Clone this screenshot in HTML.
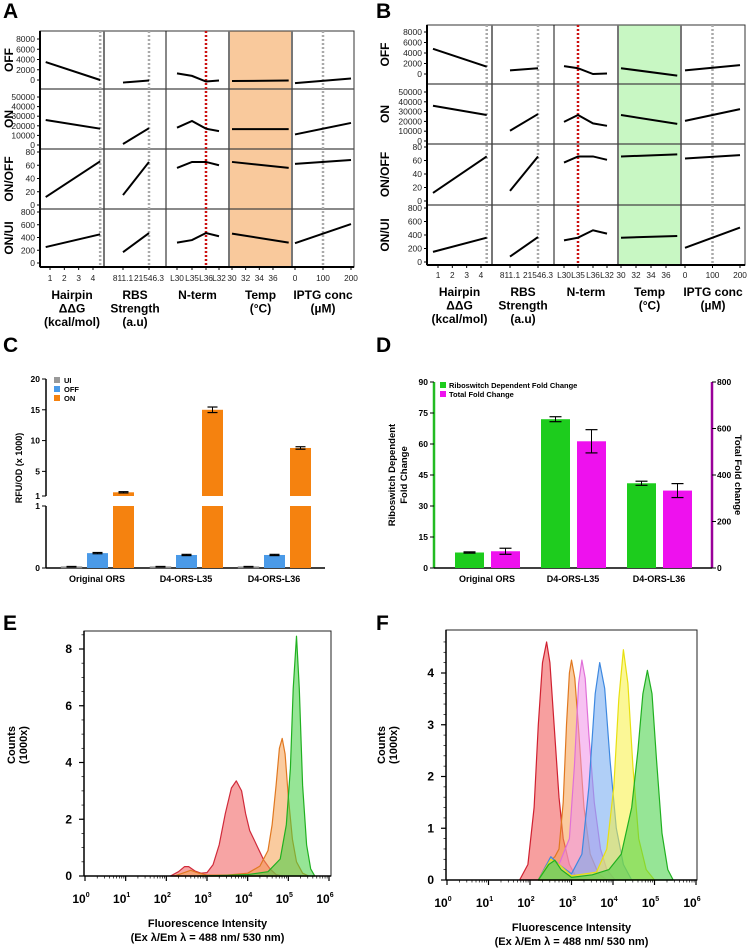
<!DOCTYPE html>
<html><head><meta charset="utf-8"><style>
html,body{margin:0;padding:0;background:#fff}
svg{display:block;font-family:"Liberation Sans",Arial,sans-serif}
</style></head><body>
<svg id="fig" width="747" height="951" viewBox="0 0 747 951" xmlns="http://www.w3.org/2000/svg"></svg>
<script>
// ---------- Panel A/B data ----------
const hairpinX=[0.7,4.5];
const hairpinXB=[0.65,4.4];
const rbsX=[811.1,21546.3];
const ntermCats=['L30','L35','L36','L32'];
const tempX=[30,38.3];
const tempXB=[30,37.5];
const iptgX=[0,200];
const rowNames=['OFF','ON','ON/OFF','ON/UI'];
const rowMax=[8000,50000,80,800];
const rowTicks=[[0,2000,4000,6000,8000],[0,10000,20000,30000,40000,50000],[0,20,40,60,80],[0,200,400,600,800]];
const aOFF=[[3500,0],[-500,-100],[1300,800,-300,-100],[-200,-100],[-600,300]];
const aON=[[26000,17000],[1000,17500],[18000,25000,17000,14500],[16500,16500],[11000,23000]];
const aONOFF=[[12,66],[15,65],[56,65,65,60],[65,56],[62,68]];
const aONUI=[[250,450],[170,470],[320,360,470,420],[460,320],[310,610]];
const bOFF=[[4800,1400],[700,1100],[1500,1100,0,100],[1100,-300],[700,1700]];
const bON=[[36000,26500],[10500,27500],[19500,26500,18000,15500],[26500,17500],[20500,32500]];
const bONOFF=[[12,66],[15,66],[57,66,66,61],[66,69],[63,68]];
const bONUI=[[150,360],[80,370],[320,360,470,420],[360,385],[210,510]];

// ---------- Panel C data ----------
const cGroups=['Original ORS','D4-ORS-L35','D4-ORS-L36'];
const cUI=[0.02,0.02,0.02];
const cOFF=[0.24,0.21,0.21];
const cON=[1.6,15.0,8.8];
const cOFFerr=[0.01,0.01,0.01];
const cONerr=[0.1,0.45,0.2];
// ---------- Panel D data ----------
const dGroups=['Original ORS','D4-ORS-L35','D4-ORS-L36'];
const dRibo=[7.5,72,41];
const dRiboErr=[0.3,1.2,1];
const dTotal=[72,545,333];
const dTotalErr=[13,50,30];
// ---------- Panel E/F histogram data (log10 intensity, counts x1000) ----------
const eRedX=[2.1,2.3,2.45,2.55,2.7,2.85,3.0,3.15,3.3,3.45,3.6,3.72,3.85,3.95,4.05,4.15,4.25,4.4,4.55,4.7,4.85];
const eRedY=[0,0.15,0.33,0.33,0.18,0.1,0.12,0.4,1.1,2.2,3.1,3.35,3.0,2.2,1.6,1.3,1.0,0.55,0.25,0.05,0];
const eOrX=[2.2,2.4,2.6,2.8,3.0,3.5,4.0,4.3,4.5,4.6,4.7,4.78,4.85,4.92,5.0,5.1,5.2,5.35,5.5];
const eOrY=[0,0.1,0.2,0.1,0.03,0.03,0.1,0.35,0.9,1.8,3.2,4.5,4.85,4.3,2.8,1.3,0.5,0.1,0];
const eGrX=[2.8,3.5,4.0,4.5,4.8,4.95,5.05,5.12,5.2,5.27,5.35,5.45,5.55,5.65];
const eGrY=[0,0.02,0.05,0.15,0.6,1.8,3.8,6.6,8.45,6.6,3.2,1.1,0.25,0];
const fRedX=[1.75,1.95,2.1,2.2,2.3,2.4,2.48,2.58,2.7,2.8,2.95,3.1,3.3];
const fRedY=[0,0.3,1.4,3.0,4.2,4.6,4.2,3.0,1.6,0.8,0.3,0.08,0];
const fOrX=[2.2,2.4,2.6,2.7,2.8,2.88,2.95,3.0,3.08,3.18,3.3,3.45,3.65,3.85];
const fOrY=[0,0.3,0.45,0.6,1.5,3.0,4.0,4.25,3.9,2.8,1.4,0.5,0.12,0];
const fPkX=[2.2,2.5,2.7,2.95,3.07,3.17,3.25,3.33,3.42,3.55,3.7,3.85,4.05];
const fPkY=[0,0.35,0.3,0.8,2.2,3.8,4.25,3.9,2.8,1.5,0.6,0.2,0];
const fBlX=[2.2,2.5,2.7,3.0,3.25,3.42,3.57,3.68,3.8,3.93,4.08,4.25,4.45];
const fBlY=[0,0.45,0.3,0.12,0.5,1.8,3.6,4.2,3.7,2.3,1.0,0.3,0];
const fYeX=[2.2,2.5,2.7,3.0,3.6,3.85,4.02,4.14,4.25,4.36,4.48,4.62,4.8,5.0];
const fYeY=[0,0.4,0.3,0.08,0.15,0.6,1.8,3.5,4.45,3.8,2.2,0.8,0.2,0];
const fGrX=[2.2,2.45,2.6,2.75,3.0,3.5,3.9,4.2,4.45,4.6,4.72,4.83,4.94,5.05,5.18,5.32,5.45];
const fGrY=[0,0.3,0.38,0.2,0.05,0.1,0.2,0.5,1.4,2.5,3.6,4.05,3.6,2.3,0.9,0.2,0];

const NS='http://www.w3.org/2000/svg';
const svg=document.getElementById('fig');
function mk(tag,attrs,parent){const e=document.createElementNS(NS,tag);for(const k in attrs)e.setAttribute(k,attrs[k]);(parent||svg).appendChild(e);return e;}
function txt(s,x,y,size,opts,parent){const o=Object.assign({x:x,y:y,'font-size':size,fill:'#000'},opts||{});const t=mk('text',o,parent);t.textContent=s;return t;}

[['A',3,18],['B',376,18],['C',3,352],['D',376,352],['E',3,630],['F',376,630]].forEach(p=>{
  const t=txt(p[0],p[1],p[2],21,{'font-weight':'bold'});
  
  
});

function multiPanel(cfg){
  const g=mk('g',{});
  
  
  const cols=cfg.cols, rows=cfg.rows;
  const sh=mk('rect',{x:cols[3],y:rows[0],width:cols[4]-cols[3],height:rows[4]-rows[0],fill:cfg.shade},g);
  
  
  mk('rect',{x:cols[0],y:rows[0],width:cols[5]-cols[0],height:rows[4]-rows[0],fill:'none',stroke:'#333','stroke-width':1},g);
  for(let i=1;i<5;i++){mk('line',{x1:cols[i],x2:cols[i],y1:rows[0],y2:rows[4],stroke:i==2?'#111':'#777','stroke-width':i==2?1:2},g);}
  for(let i=1;i<4;i++){mk('line',{x1:cols[0],x2:cols[5],y1:rows[i],y2:rows[i],stroke:'#444','stroke-width':1.2},g);}
  mk('line',{x1:cols[0],x2:cols[0],y1:rows[0],y2:rows[4],stroke:'#000','stroke-width':2},g);
  mk('line',{x1:cols[0],x2:cols[5],y1:rows[4],y2:rows[4],stroke:'#000','stroke-width':2},g);
  const hs=v=>cfg.hp1+(v-1)*cfg.hpu;
  const rs=v=>cfg.rb[0]+(v-rbsX[0])/(rbsX[1]-rbsX[0])*(cfg.rb[1]-cfg.rb[0]);
  const ns=i=>cfg.nt[i];
  const ts=v=>cfg.t30+(v-30)*cfg.tu;
  const is=v=>cfg.ip[0]+v/200*(cfg.ip[1]-cfg.ip[0]);
  const refs=[[hs(cfg.hpRef),'#aaa'],[rs(rbsX[1]),'#aaa'],[ns(cfg.redIdx),'#cc1010'],[is(100),'#aaa']];
  refs.forEach((r,i)=>{const l=mk('line',{x1:r[0],x2:r[0],y1:rows[0],y2:rows[4],stroke:r[1],'stroke-width':2.5,'stroke-dasharray':'2,2'},g);
    
    });
  cfg.data.forEach((rowData,ri)=>{
    const y0=cfg.y0[ri], ym=cfg.ym[ri];
    const ys=v=>y0+(v/rowMax[ri])*(ym-y0);
    rowTicks[ri].forEach(tv=>{
      mk('line',{x1:cols[0]-3,x2:cols[0],y1:ys(tv),y2:ys(tv),stroke:'#000','stroke-width':1},g);
      txt(String(tv),cols[0]-5,ys(tv)+3,8.5,{'text-anchor':'end',fill:'#222'},g);
    });
    const rl=txt(rowNames[ri],0,0,12,{'font-weight':'bold','text-anchor':'middle',transform:`translate(${cfg.rowLabX},${(rows[ri]+rows[ri+1])/2}) rotate(-90)`},g);
    
    
    const series=[
      [rowData[0].map((v,i)=>[hs(cfg.hx[i]),ys(v)]),'hairpin'],
      [rowData[1].map((v,i)=>[rs(rbsX[i]),ys(v)]),'rbs'],
      [rowData[2].map((v,i)=>[ns(i),ys(v)]),'nterm'],
      [rowData[3].map((v,i)=>[ts(cfg.tx[i]),ys(v)]),'temp'],
      [rowData[4].map((v,i)=>[is(iptgX[i]),ys(v)]),'iptg']];
    series.forEach(s=>{
      const p=mk('polyline',{points:s[0].map(q=>q.join(',')).join(' '),fill:'none',stroke:'#000','stroke-width':2},g);
      
      
    });
  });
  const bt=[];
  [1,2,3,4].forEach(v=>bt.push([hs(v),String(v)]));
  bt.push([rs(rbsX[0]),'811.1']);bt.push([rs(rbsX[1]),'21546.3']);
  ntermCats.forEach((c,i)=>bt.push([ns(i),c]));
  [30,32,34,36].forEach(v=>bt.push([ts(v),String(v)]));
  [0,100,200].forEach(v=>bt.push([is(v),String(v)]));
  bt.forEach(b=>{mk('line',{x1:b[0],x2:b[0],y1:rows[4],y2:rows[4]+3,stroke:'#000','stroke-width':1},g);
    txt(b[1],b[0],cfg.tickY,8.3,{'text-anchor':'middle',fill:'#222'},g);});
  const titles=[['Hairpin','ΔΔG','(kcal/mol)'],['RBS','Strength','(a.u)'],['N-term'],['Temp','(°C)'],['IPTG conc','(µM)']];
  titles.forEach((tl,ci)=>{const cx=(cols[ci]+cols[ci+1])/2;
    tl.forEach((s,li)=>{const t=txt(s,cx,cfg.titleY+li*13.5,12,{'font-weight':'bold','text-anchor':'middle'},g);
      
      });});
}
multiPanel({name:'panel-a',cols:[40,104,166,229,292,354],rows:[31,89,149,209,267],shade:'#f9c99c',
  y0:[80,145,205,263],ym:[39,97,152,212],hp1:50,hpu:14.33,hpRef:4.5,rb:[123,149],nt:[177,192,206,219],redIdx:2,t30:232,tu:6.83,ip:[295,351],
  hx:hairpinX,tx:tempX,rowLabX:13,tickY:281,titleY:299,data:[aOFF,aON,aONOFF,aONUI]});
multiPanel({name:'panel-b',cols:[427,492,554,618,681,745],rows:[25,84,144,205,265],shade:'#c8f7c3',
  y0:[74,141,201,262],ym:[32,92,147,208],hp1:438,hpu:14.33,hpRef:4.4,rb:[510,538],nt:[564,578,593,607],redIdx:1,t30:621,tu:7.5,ip:[685,740],
  hx:hairpinXB,tx:tempXB,rowLabX:389,tickY:278,titleY:296,data:[bOFF,bON,bONOFF,bONUI]});

(function(){
  const g=mk('g',{});
  
  
  const base=568, lowTop=506, upBot=496, upTop=379;
  const yLow=v=>base-v*(base-lowTop);
  const yUp=v=>upBot-(v-1)/19*(upBot-upTop);
  const y=v=>v<=1?yLow(v):yUp(v);
  mk('line',{x1:46,x2:46,y1:upTop,y2:upBot,stroke:'#000','stroke-width':1.5},g);
  mk('line',{x1:46,x2:46,y1:lowTop,y2:base,stroke:'#000','stroke-width':1.5},g);
  mk('line',{x1:46,x2:325,y1:base,y2:base,stroke:'#000','stroke-width':1.5},g);
  [[1,'1'],[5,'5'],[10,'10'],[15,'15'],[20,'20']].forEach(t=>{mk('line',{x1:42,x2:46,y1:yUp(t[0]),y2:yUp(t[0]),stroke:'#000'},g);txt(t[1],40,yUp(t[0])+3,8.5,{'text-anchor':'end','font-weight':'bold'},g);});
  [[0,'0'],[1,'1']].forEach(t=>{mk('line',{x1:42,x2:46,y1:yLow(t[0]),y2:yLow(t[0]),stroke:'#000'},g);txt(t[1],40,yLow(t[0])+3,8.5,{'text-anchor':'end','font-weight':'bold'},g);});
  const yl=txt('RFU/OD (x 1000)',0,0,9,{'font-weight':'bold','text-anchor':'middle',transform:'translate(22,468) rotate(-90)'},g);
  
  
  const starts=[61,150,238], bw=21, off=[0,26,52];
  const colors=['#999','#4a9ae8','#f5820f'];
  cGroups.forEach((gname,gi)=>{
    const vals=[cUI[gi],cOFF[gi],cON[gi]];
    vals.forEach((v,si)=>{
      const x=starts[gi]+off[si];
      if(v>1){
        const b1=mk('rect',{x:x,y:lowTop,width:bw,height:base-lowTop,fill:colors[si]},g);
        
        
        const b2=mk('rect',{x:x,y:y(v),width:bw,height:upBot-y(v),fill:colors[si]},g);
        
        
      } else {
        const b=mk('rect',{x:x,y:y(v),width:bw,height:base-y(v),fill:colors[si],stroke:si==0?'#777':'none','stroke-width':0.5},g);
        
        
      }
      const err=si==1?cOFFerr[gi]:si==2?cONerr[gi]:0.005;
      const cx=x+bw/2;
      mk('line',{x1:cx,x2:cx,y1:y(v+err),y2:y(v-err),stroke:'#000','stroke-width':1},g);
      mk('line',{x1:cx-5,x2:cx+5,y1:y(v+err),y2:y(v+err),stroke:'#000','stroke-width':1.2},g);
      mk('line',{x1:cx-5,x2:cx+5,y1:y(v-err),y2:y(v-err),stroke:'#000','stroke-width':1.2},g);
    });
    const t=txt(gname,starts[gi]+36,582,9,{'font-weight':'bold','text-anchor':'middle'},g);
    
    
  });
  ['UI','OFF','ON'].forEach((s,i)=>{
    const r=mk('rect',{x:54,y:377+i*9,width:6,height:6,fill:colors[i]},g);
    
    
    txt(s,64,383+i*9,7.5,{'font-weight':'bold'},g);
  });
})();

(function(){
  const g=mk('g',{});
  
  
  const base=568, top=382;
  const yl=v=>base-v/90*(base-top);
  const yr=v=>base-v/800*(base-top);
  mk('line',{x1:434,x2:434,y1:top,y2:base,stroke:'#22bb22','stroke-width':2.5},g);
  mk('line',{x1:712,x2:712,y1:top,y2:base,stroke:'#990099','stroke-width':2.5},g);
  mk('line',{x1:434,x2:712,y1:base,y2:base,stroke:'#000','stroke-width':1.5},g);
  [0,15,30,45,60,75,90].forEach(v=>{mk('line',{x1:430,x2:434,y1:yl(v),y2:yl(v),stroke:'#000'},g);txt(String(v),428,yl(v)+3,8.5,{'text-anchor':'end','font-weight':'bold'},g);});
  [0,200,400,600,800].forEach(v=>{mk('line',{x1:712,x2:716,y1:yr(v),y2:yr(v),stroke:'#000'},g);txt(String(v),717,yr(v)+3,8.5,{'font-weight':'bold'},g);});
  txt('Riboswitch Dependent',0,0,9.5,{'font-weight':'bold','text-anchor':'middle',transform:'translate(395,475) rotate(-90)'},g);
  txt('Fold Change',0,0,9.5,{'font-weight':'bold','text-anchor':'middle',transform:'translate(407,475) rotate(-90)'},g);
  txt('Total Fold change',0,0,9.5,{'font-weight':'bold','text-anchor':'middle',transform:'translate(735,475) rotate(90)'},g);
  const starts=[455,541,627], bw=29;
  dGroups.forEach((gn,gi)=>{
    const b1=mk('rect',{x:starts[gi],y:yl(dRibo[gi]),width:bw,height:base-yl(dRibo[gi]),fill:'#1dcc1d'},g);
    
    
    const b2=mk('rect',{x:starts[gi]+36,y:yr(dTotal[gi]),width:bw,height:base-yr(dTotal[gi]),fill:'#ee11ee'},g);
    
    
    [[starts[gi]+bw/2,yl(dRibo[gi]+dRiboErr[gi]),yl(dRibo[gi]-dRiboErr[gi])],[starts[gi]+36+bw/2,yr(dTotal[gi]+dTotalErr[gi]),yr(dTotal[gi]-dTotalErr[gi])]].forEach(e=>{
      mk('line',{x1:e[0],x2:e[0],y1:e[1],y2:e[2],stroke:'#000'},g);
      mk('line',{x1:e[0]-6,x2:e[0]+6,y1:e[1],y2:e[1],stroke:'#000','stroke-width':1.2},g);
      mk('line',{x1:e[0]-6,x2:e[0]+6,y1:e[2],y2:e[2],stroke:'#000','stroke-width':1.2},g);
    });
    const t=txt(gn,starts[gi]+32,582,9,{'font-weight':'bold','text-anchor':'middle'},g);
    
    
  });
  [['Riboswitch Dependent Fold Change','#1dcc1d'],['Total Fold Change','#ee11ee']].forEach((l,i)=>{
    const r=mk('rect',{x:440,y:382+i*9,width:6,height:6,fill:l[1]},g);
    
    
    txt(l[0],449,388+i*9,7.5,{'font-weight':'bold'},g);
  });
})();

function histPanel(cfg){
  const g=mk('g',{});
  
  
  const xs=v=>cfg.x0+v*(cfg.x6-cfg.x0)/6;
  const ys=v=>cfg.y0-v*cfg.yu;
  mk('rect',{x:cfg.bx0,y:cfg.by0,width:cfg.bx1-cfg.bx0,height:cfg.y0-cfg.by0,fill:'#fff',stroke:'#222','stroke-width':1},g);
  cfg.series.forEach(s=>{
    const pts=s[0].map((xv,i)=>[xs(xv),ys(s[1][i])]);
    const d='M'+pts.map(p=>p[0].toFixed(1)+','+p[1].toFixed(1)).join(' L')+' Z';
    const p=mk('path',{d:d,fill:s[2],'fill-opacity':0.55,stroke:s[3],'stroke-width':1.2,'stroke-linejoin':'round'},g);
    
    
  });
  mk('line',{x1:cfg.bx0,x2:cfg.bx0,y1:cfg.by0,y2:cfg.y0,stroke:'#000','stroke-width':1.5},g);
  mk('line',{x1:cfg.bx0,x2:cfg.bx1,y1:cfg.y0,y2:cfg.y0,stroke:'#000','stroke-width':1.5},g);
  for(let d=0;d<=6;d++){
    mk('line',{x1:xs(d),x2:xs(d),y1:cfg.y0,y2:cfg.y0+5,stroke:'#000','stroke-width':1.2},g);
    if(d<6)for(let k=2;k<10;k++){const xx=xs(d+Math.log10(k));mk('line',{x1:xx,x2:xx,y1:cfg.y0,y2:cfg.y0+2.5,stroke:'#000','stroke-width':0.7},g);}
    const t=txt('10',xs(d)-4,cfg.y0+27,12,{'font-weight':'bold','text-anchor':'middle'},g);
    const sp=mk('tspan',{dy:-6,'font-size':7},t);sp.textContent=String(d);
  }
  cfg.yTicks.forEach(v=>{mk('line',{x1:cfg.bx0-5,x2:cfg.bx0,y1:ys(v),y2:ys(v),stroke:'#000','stroke-width':1.2},g);
    txt(String(v),cfg.bx0-12,ys(v)+4,12,{'font-weight':'bold','text-anchor':'end'},g);});
  for(let v=0;v<=cfg.yMax;v+=cfg.minor){mk('line',{x1:cfg.bx0-2.5,x2:cfg.bx0,y1:ys(v),y2:ys(v),stroke:'#000','stroke-width':0.7},g);}
  txt('Counts',0,0,11,{'font-weight':'bold','text-anchor':'middle',transform:`translate(${cfg.ylx},${cfg.yly}) rotate(-90)`},g);
  txt('(1000x)',0,0,11,{'font-weight':'bold','text-anchor':'middle',transform:`translate(${cfg.ylx+12},${cfg.yly}) rotate(-90)`},g);
  const cx=(cfg.bx0+cfg.bx1)/2;
  const t1=txt('Fluorescence Intensity',cx,cfg.y0+51,11,{'font-weight':'bold','text-anchor':'middle'},g);
  
  
  txt('(Ex λ/Em λ = 488 nm/ 530 nm)',cx,cfg.y0+65,11,{'font-weight':'bold','text-anchor':'middle'},g);
}
histPanel({name:'panel-e-histogram',bx0:84,bx1:331,by0:631,y0:876,x0:85,x6:329,yu:(876-649)/8,yTicks:[0,2,4,6,8],yMax:8.6,minor:0.5,ylx:15,yly:745,
  series:[[eRedX,eRedY,'#f05a5a','#d02a3a','red'],[eOrX,eOrY,'#f5a050','#e07820','orange'],[eGrX,eGrY,'#40d040','#20b020','green']]});
histPanel({name:'panel-f-histogram',bx0:446,bx1:697,by0:630,y0:880,x0:447,x6:696,yu:(880-673)/4,yTicks:[0,1,2,3,4],yMax:4.7,minor:0.2,ylx:385,yly:745,
  series:[[fRedX,fRedY,'#f05050','#d02030','red'],[fOrX,fOrY,'#f5a050','#e07820','orange'],[fPkX,fPkY,'#f090e8','#e070d8','pink'],
          [fBlX,fBlY,'#70a8f0','#3d88e0','blue'],[fYeX,fYeY,'#f8f040','#e8e010','yellow'],[fGrX,fGrY,'#40d040','#20b020','green']]});
</script>
</body></html>
